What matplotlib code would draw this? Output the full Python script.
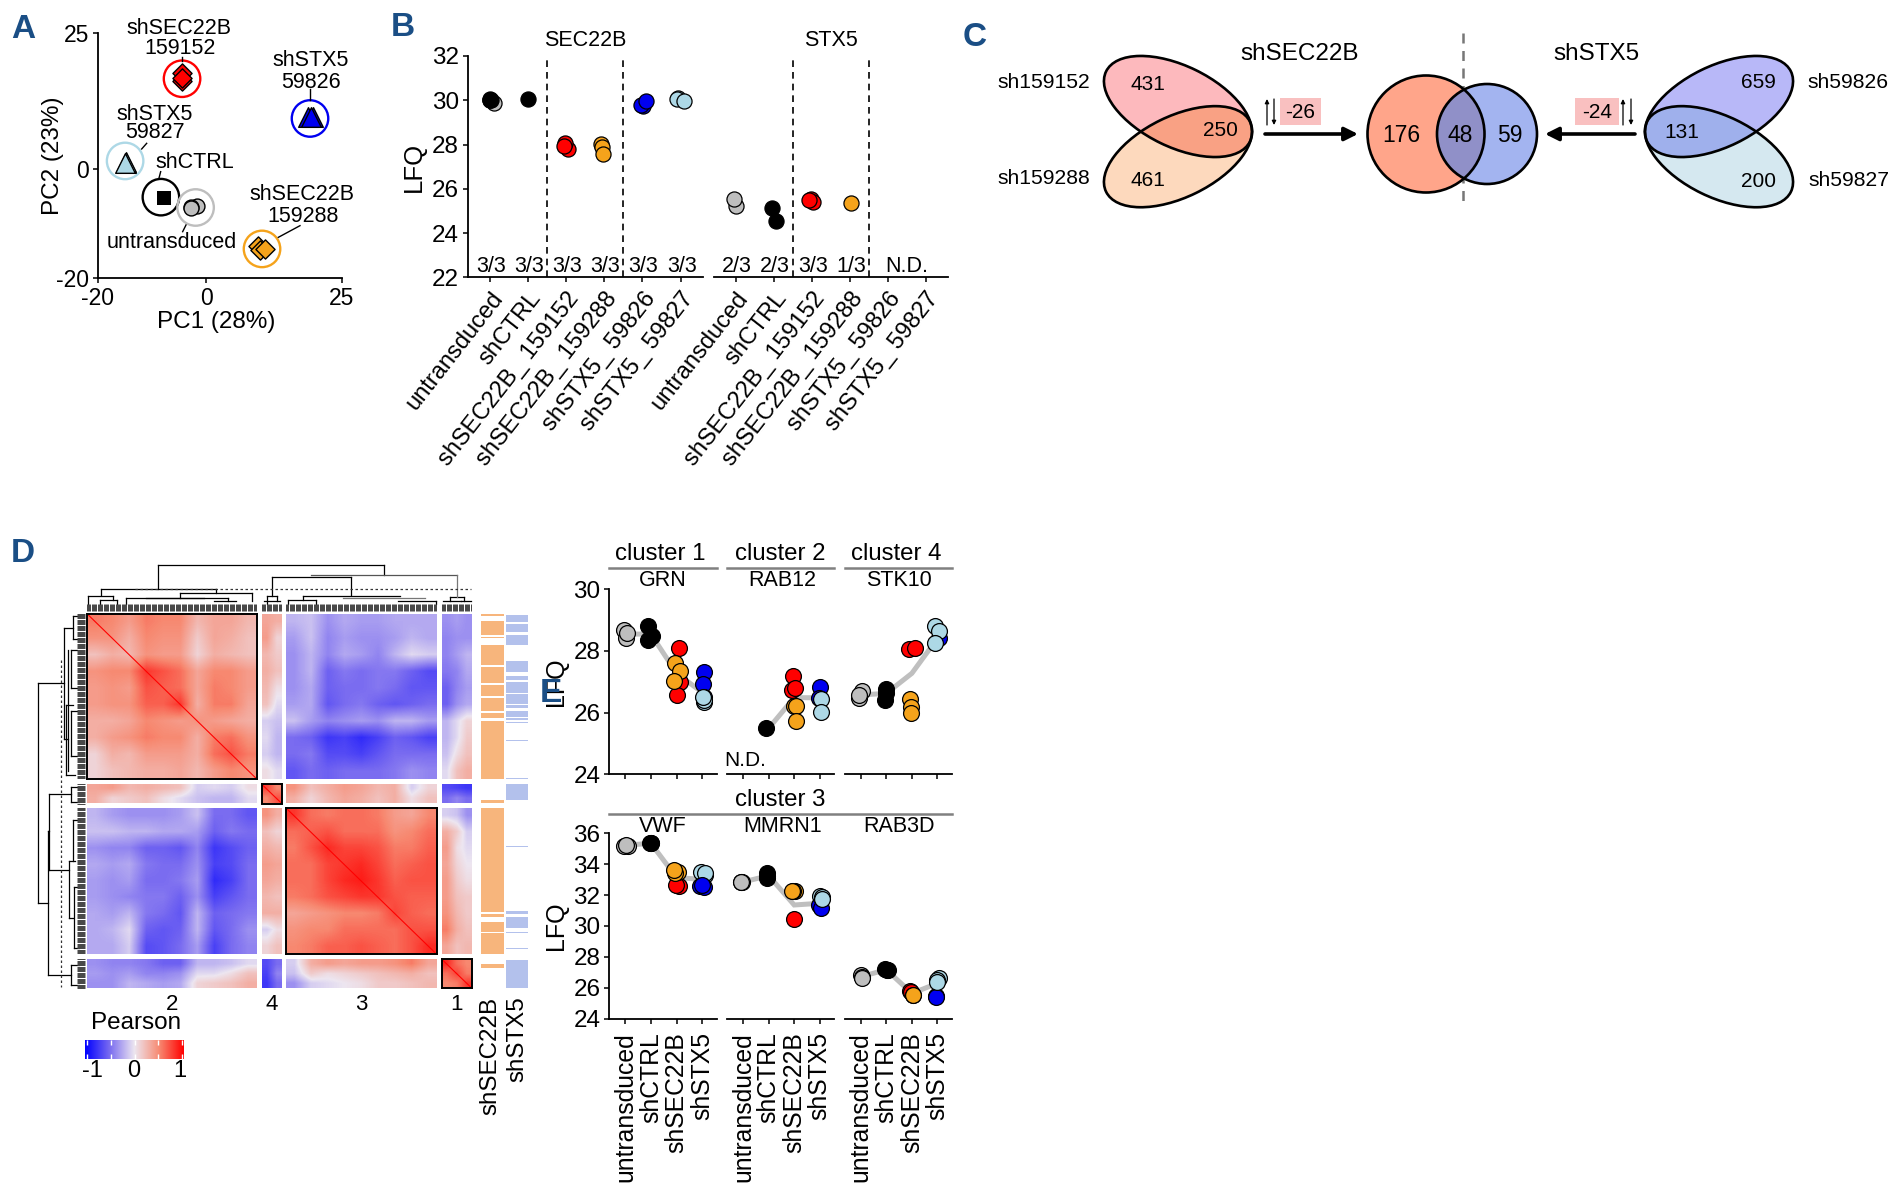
import numpy as np
import matplotlib
matplotlib.use("Agg")
import matplotlib.pyplot as plt
from matplotlib.colors import LinearSegmentedColormap
from matplotlib.patches import Ellipse, Rectangle, Circle

plt.rcParams["font.family"] = ["Liberation Sans", "DejaVu Sans"]
plt.rcParams["axes.unicode_minus"] = False

W, H = 1897, 1196
COL = {"g": "#BEBEBE", "k": "#000000", "r": "#FF0000", "o": "#F5A31B",
       "b": "#0000F0", "l": "#ADD8E6"}
NAVY = "#1A4E85"

# ---- panel A
pca_x = [-4.5, -4.5, -4.5, 18.8, 19.7, 19.2, -14.8, -14.8, -15.0, -7.85, -7.9, -7.8,
         -1.8, -2.9, -2.8, 9.6, 9.9, 10.8]
pca_y = [17.6, 16.1, 16.8, 9.6, 9.6, 9.6, 1.15, 1.3, 1.15, -5.3, -5.3, -5.3,
         -6.8, -6.9, -7.1, -14.2, -14.9, -14.7]
pca_c = "rrrbbblllkkkgggooo"
pca_m = "DDD^^^^^^sssoooDDD"
ring_x = [-4.5, 19.1, -15.0, -8.4, -2.0, 10.25]
ring_y = [16.6, 9.3, 1.5, -5.15, -7.05, -14.66]
ring_c = "rblkgo"

# ---- panel B
cond_b = ["untransduced", "shCTRL", "shSEC22B_ 159152", "shSEC22B_ 159288",
          "shSTX5_ 59826", "shSTX5_ 59827"]
sec22b_x = [0.1, 0.0, 0.0, 0.0, 0.02, 1.0, 2.04, 1.96, 1.93, 2.9, 2.93, 2.97,
            4.02, 3.95, 4.1, 4.92, 4.9, 5.08]
sec22b_y = [29.86, 30.01, 30.06, 30.0, 30.03, 30.06, 27.8, 28.08, 27.95, 28.02, 27.87, 27.59,
            29.76, 29.8, 29.97, 30.12, 30.07, 29.95]
sec22b_c = "ggkkkkrrrooobbblll"
stx5_x = [0.0, -0.05, 1.07, 0.95, 1.98, 2.03, 1.92, 3.02]
stx5_y = [25.24, 25.54, 24.56, 25.12, 25.55, 25.4, 25.48, 25.37]
stx5_c = "ggkkrrro"
sec22b_n = ["3/3"] * 6
stx5_n = ["2/3", "2/3", "3/3", "1/3"]

# ---- panel C
venn_sec = [431, 250, 461]
venn_both = [176, 48, 59]
venn_stx = [659, 131, 200]

# ---- panel D, coarse correlation blocks
corr_22 = [[.55, .5, .4, .55, .5, .5, .25, .35, .35, .25],
           [.45, .45, .3, .5, .45, .45, .15, .35, .3, .2],
           [.2, .3, .25, .45, .4, .4, .1, .3, .25, .2],
           [.45, .5, .5, .8, .7, .6, .35, .5, .5, .4],
           [.4, .45, .4, .7, .65, .6, .35, .55, .5, .4],
           [.4, .45, .45, .65, .65, .8, .3, .55, .55, .35],
           [.3, .3, .35, .5, .45, .4, .45, .4, .35, .3],
           [.3, .4, .45, .55, .5, .5, .3, .55, .6, .45],
           [.1, .3, .25, .4, .4, .4, .3, .6, .7, .55],
           [.1, .2, .25, .3, .3, .35, .25, .4, .5, .45]]
corr_24 = [[.35, .3], [.4, .1], [.25, .15], [.3, .2], [.25, .05],
           [.2, -.05], [-.1, -.15], [-.05, -.2], [-.1, -.2], [.05, -.05]]
corr_23 = [[-.2, -.15, -.35, -.25, -.3, -.3, -.25, -.25, -.25],
           [-.3, -.15, -.4, -.3, -.35, -.35, -.3, -.2, -.25],
           [-.35, -.2, -.4, -.25, -.3, -.4, -.2, -.05, -.1],
           [-.35, -.2, -.55, -.45, -.5, -.45, -.45, -.55, -.65],
           [-.35, -.25, -.55, -.5, -.5, -.45, -.5, -.6, -.6],
           [-.3, -.25, -.6, -.5, -.45, -.55, -.6, -.55, -.5],
           [-.15, -.3, -.4, -.35, -.3, -.35, -.2, -.2, -.3],
           [-.5, -.55, -.75, -.7, -.8, -.7, -.55, -.6, -.7],
           [-.5, -.45, -.65, -.65, -.7, -.6, -.5, -.5, -.5],
           [-.6, -.5, -.55, -.5, -.5, -.5, -.45, -.35, -.4]]
corr_21 = [[-.35, -.3, -.35], [-.4, -.35, -.35], [-.4, -.3, -.2], [-.45, -.4, -.25],
           [-.55, -.4, -.3], [-.55, -.35, -.25], [-.2, -.05, .1], [-.2, -.05, .15],
           [-.15, .05, .2], [-.05, .2, .3]]
corr_44 = [[.75, .5], [.5, .7]]
corr_43 = [[.45, .2, .3, .4, .35, .25, .3, -.1, .1],
           [.3, .1, .25, .35, .3, .2, .3, .05, .2]]
corr_41 = [[-.65, -.7, -.75], [-.5, -.4, -.5]]
corr_33 = [[.8, .6, .55, .6, .6, .55, .4, .35, .5],
           [.6, .65, .7, .6, .6, .6, .45, .5, .6],
           [.55, .7, .85, .75, .75, .7, .55, .55, .65],
           [.6, .6, .75, .8, .85, .75, .6, .65, .7],
           [.6, .6, .75, .85, .9, .8, .65, .7, .7],
           [.55, .6, .7, .75, .8, .8, .7, .65, .65],
           [.35, .4, .45, .5, .5, .55, .75, .65, .6],
           [.45, .5, .5, .6, .6, .6, .6, .7, .7],
           [.5, .55, .65, .65, .7, .65, .6, .7, .85]]
corr_31 = [[-.1, -.15, -.35], [.3, .15, -.1], [.4, .05, -.05], [.35, .1, .0], [.4, .15, .05],
           [.4, .2, .15], [.45, .25, .15], [.55, .3, .2], [.35, .2, .25]]
corr_11 = [[.85, .6, .5], [.6, .75, .55], [.5, .55, .8]]
# protein rows flagged in the two side strips
hits_sec = [(222, 228), (241, 280), (284, 288), (307, 360), (364, 408), (412, 442), (446, 480),
            (486, 500), (508, 662), (717, 725), (739, 1016), (1020, 1028), (1042, 1068),
            (1072, 1128), (1155, 1165)]
hits_stx = [(226, 245), (250, 270), (280, 306), (347, 378), (388, 400), (405, 432), (436, 462),
            (466, 472), (480, 497), (500, 506), (510, 513), (558, 561), (658, 662), (676, 718),
            (840, 844), (1014, 1021), (1028, 1057), (1068, 1071), (1111, 1115), (1143, 1218)]

# ---- panel E
cond_e = ["untransduced", "shCTRL", "shSEC22B", "shSTX5"]
grn_x = [-.065, .04, .065, .9, .88, 1.05, 2.09, 2.12, 2.0, 1.92, 2.12, 1.91, 3.05, 3.01, 3.05, 3.08, 3.05, 3.03]
grn_y = [28.67, 28.4, 28.56, 28.8, 28.35, 28.48, 28.08, 27.0, 26.57, 27.6, 27.36, 27.02,
         27.32, 26.92, 26.5, 26.33, 26.4, 26.51]
grn_c = "gggkkkrrrooobbblll"
grn_line = [28.54, 28.54, 27.27, 26.65]
rab12_x = [.9, 1.97, 1.9, 2.05, 2.01, 2.08, 2.09, 3.03, 2.96, 3.05, 3.06]
rab12_y = [25.49, 27.19, 26.73, 26.81, 26.22, 26.2, 25.74, 26.84, 26.46, 26.44, 26.03]
rab12_c = "krrrooobbll"
rab12_line = [None, 25.49, 26.48, 26.48]
stk10_x = [.04, -.065, -.065, .97, .93, .97, 1.87, 2.12, 1.92, 1.96, 1.96, 3.05, 2.89, 3.05, 2.92]
stk10_y = [26.7, 26.46, 26.57, 26.75, 26.41, 26.62, 28.06, 28.1, 26.45, 26.19, 26.0, 28.4, 28.81, 28.65, 28.26]
stk10_c = "gggkkkrrooobl" + "ll"
stk10_line = [26.57, 26.62, 27.27, 28.4]
vwf_x = [.09, -.04, .03, 1.0, .98, 1.02, 2.09, 1.98, 2.05, 1.95, 1.9, 3.09, 2.96, 3.1, 2.91, 3.08, 3.0]
vwf_y = [35.2, 35.2, 35.23, 35.35, 35.35, 35.35, 32.59, 32.65, 33.52, 33.45, 33.63, 33.3, 33.52, 33.4, 32.59, 32.5, 32.65]
vwf_c = "gggkkkrrooolllbbb"
vwf_line = [35.23, 35.35, 33.13, 33.02]
mmrn1_x = [-.09, -.04, -.07, .95, .92, .95, 1.99, 2.03, 1.96, 1.93, 2.98, 3.07, 3.03, 3.08, 3.09]
mmrn1_y = [32.85, 32.85, 32.87, 33.45, 33.09, 33.25, 30.43, 32.24, 32.26, 32.26, 31.36, 31.14, 31.96, 31.85, 31.73]
mmrn1_c = "gggkkkrooobblll"
mmrn1_line = [32.85, 33.26, 31.36, 31.47]
rab3d_x = [.0, .03, .05, .95, 1.08, 1.01, 1.92, 1.95, 2.03, 2.03, 2.95, 2.95, 3.07, 2.97, 2.98]
rab3d_y = [26.83, 26.72, 26.63, 27.2, 27.15, 27.17, 25.81, 25.7, 25.55, 25.53, 25.49, 25.43, 26.61, 26.5, 26.35]
rab3d_c = "gggkkkrrrobblll"
rab3d_line = [26.72, 27.17, 25.64, 26.29]

fig = plt.figure(figsize=(W / 100, H / 100), dpi=100)


def pax(l, t, r, b, **kw):
    return fig.add_axes([l / W, 1 - b / H, (r - l) / W, (b - t) / H], **kw)


def clean(ax, left=True, fs=17.5):
    for s in ("top", "right"):
        ax.spines[s].set_visible(False)
    ax.spines["left"].set_visible(left)
    for s in ("left", "bottom"):
        ax.spines[s].set_linewidth(1.3)
    ax.tick_params(width=1.1, length=3.5, labelsize=fs, pad=3, left=left)
    ax.patch.set_alpha(0)


def dots(ax, xs, ys, cs, s=88):
    for x, y, c in zip(xs, ys, cs):
        ax.scatter(x, y, s=s, color=COL[c], edgecolor="k", linewidth=0.9, zorder=3, clip_on=False)


# ---- A
ax = pax(98, 33, 342, 278)
clean(ax, fs=16.5)
ax.set_xlim(-20, 25)
ax.set_ylim(-20, 25)
ax.set_xticks([-20, 0, 25])
ax.set_yticks([-20, 0, 25])
ax.set_xlabel("PC1 (28%)", fontsize=17.5)
ax.xaxis.set_label_coords(0.485, -0.135)
ax.set_ylabel("PC2 (23%)", fontsize=17.5, labelpad=-6)
for x, y, c in zip(ring_x, ring_y, ring_c):
    ax.scatter(x, y, s=690, facecolor="none", edgecolor=COL[c], linewidth=1.7, zorder=2)
for x, y, c, m in zip(pca_x, pca_y, pca_c, pca_m):
    sz = {"D": 95, "^": 200, "s": 100, "o": 115}[m]
    lw = 0 if c == "k" else 1.0
    ax.scatter(x, y, s=sz, marker=m, color=COL[c], edgecolor="k", linewidth=lw, zorder=3)

# ---- B
ax1 = pax(467.8, 56, 702.7, 277.3)
ax2 = pax(713.6, 56, 948, 277.3)
for a, xs, ys, cs, nn, ttl in ((ax1, sec22b_x, sec22b_y, sec22b_c, sec22b_n, "SEC22B"),
                               (ax2, stx5_x, stx5_y, stx5_c, stx5_n, "STX5")):
    clean(a, left=a is ax1)
    a.set_xlim(-0.58, 5.58)
    a.set_ylim(22, 32)
    a.set_yticks(range(22, 33, 2) if a is ax1 else [])
    a.set_xticks(range(6))
    a.set_xticklabels(cond_b, rotation=52, ha="right", va="top", rotation_mode="anchor", fontsize=17)
    a.tick_params(axis="x", pad=4)
    for v in (1.5, 3.5):
        a.axvline(v, color="k", lw=1.2, ls=(0, (4, 3)), zorder=1)
    dots(a, xs, ys, cs, s=118)
    for i, t in enumerate(nn):
        a.text(i + 0.03, 22.5, t, ha="center", va="center", fontsize=15.5)
    a.text(2.5, 32.69, ttl, ha="center", va="center", fontsize=15.5)
ax1.set_ylabel("LFQ", fontsize=18.5, labelpad=4)
ax2.text(4.5, 22.5, "N.D.", ha="center", va="center", fontsize=15.5)

# ---- D heat map
cmap = LinearSegmentedColormap.from_list(
    "pearson", ["#0000FF", "#7A6CF0", "#EDE6F0", "#F78A72", "#FF0000"])
col_px = [(86.8, 256.8), (261.8, 281.8), (286, 436.8), (441.8, 471.8)]
row_px = [(613.5, 779), (784.3, 803.5), (808, 954.4), (959.3, 988.2)]
blocks = [[corr_22, corr_24, corr_23, corr_21],
          [np.transpose(corr_24), corr_44, corr_43, corr_41],
          [np.transpose(corr_23), np.transpose(corr_43), corr_33, corr_31],
          [np.transpose(corr_21), np.transpose(corr_41), np.transpose(corr_31), corr_11]]
for i, (t, b) in enumerate(row_px):
    for j, (l, r) in enumerate(col_px):
        a = pax(l, t, r, b)
        a.imshow(blocks[i][j], cmap=cmap, vmin=-1, vmax=1, aspect="auto", interpolation="bilinear")
        a.set_xticks([])
        a.set_yticks([])
        for s in a.spines.values():
            s.set_visible(i == j)
            s.set_linewidth(1.4)
        if i == j:
            # self correlation along the diagonal
            n = len(blocks[i][j])
            a.plot([-0.5, n - 0.5], [-0.5, n - 0.5], color="#FF0000", lw=0.8)
            a.set_xlim(-0.5, n - 0.5)
            a.set_ylim(n - 0.5, -0.5)

a = pax(481, 613.5, 504, 988.2)
a.axis("off")
a.set_xlim(0, 1)
a.set_ylim(1218, 222)
for s, e in hits_sec:
    a.add_patch(Rectangle((0, s), 1, e - s, color="#F7B57C", lw=0))
a = pax(506, 613.5, 528, 988.2)
a.axis("off")
a.set_xlim(0, 1)
a.set_ylim(1218, 222)
for s, e in hits_stx:
    a.add_patch(Rectangle((0, s), 1, e - s, color="#B3C1EC", lw=0))

cb = pax(85, 1040, 184, 1058.6)
cb.imshow(np.linspace(-1, 1, 256)[None, :], cmap=cmap, vmin=-1, vmax=1, aspect="auto", extent=(-1.05, 1.05, 0, 1))
cb.axis("off")
cb.vlines([-1, -.5, 0, .5, 1], 0.75, 1, color="w", lw=1)
cb.vlines([-1, -.5, 0, .5, 1], 0, 0.25, color="w", lw=1)

# ---- E
ax_top = [pax(609.3, 589, 716.7, 774.3), pax(727.3, 589, 834, 774.3), pax(845, 589, 951.7, 774.3)]
ax_bot = [pax(609.3, 833.3, 716.7, 1018.7), pax(727.3, 833.3, 834, 1018.7), pax(845, 833.3, 951.7, 1018.7)]
top_data = [(grn_x, grn_y, grn_c, grn_line), (rab12_x, rab12_y, rab12_c, rab12_line),
            (stk10_x, stk10_y, stk10_c, stk10_line)]
bot_data = [(vwf_x, vwf_y, vwf_c, vwf_line), (mmrn1_x, mmrn1_y, mmrn1_c, mmrn1_line),
            (rab3d_x, rab3d_y, rab3d_c, rab3d_line)]
for row, data, ylim, ticks in ((ax_top, top_data, (24, 30), [24, 26, 28, 30]),
                               (ax_bot, bot_data, (24, 36), list(range(24, 37, 2)))):
    for k, (a, (xs, ys, cs, mean)) in enumerate(zip(row, data)):
        clean(a, left=k == 0)
        a.set_xlim(-0.62, 3.56)
        a.set_ylim(*ylim)
        a.set_yticks(ticks if k == 0 else [])
        a.set_xticks(range(4))
        if row is ax_bot:
            a.set_xticklabels(cond_e, rotation=90, fontsize=17.8)
            a.tick_params(axis="x", pad=6)
        else:
            a.set_xticklabels([])
        mx = [i for i, v in enumerate(mean) if v is not None]
        a.plot(mx, [mean[i] for i in mx], color="#BFBFBF", lw=3.6, zorder=2, solid_joinstyle="miter")
        dots(a, xs, ys, cs, s=130)
    row[0].set_ylabel("LFQ", fontsize=18, labelpad=4)

# ---- overlay in figure pixels
ov = fig.add_axes([0, 0, 1, 1], zorder=10)
ov.set_xlim(0, W)
ov.set_ylim(H, 0)
ov.axis("off")


def txt(x, y, s, fs=15.5, **kw):
    kw.setdefault("ha", "center")
    kw.setdefault("va", "center")
    ov.text(x, y, s, fontsize=fs, **kw)


for s, x, y in (("A", 23, 29), ("B", 403, 27), ("C", 975, 37), ("D", 23, 553), ("E", 551, 693)):
    txt(x, y, s, fs=24, color=NAVY, fontweight="bold")

# A labels
for x, y, s in ((179, 28, "shSEC22B"), (180, 49, "159152"), (311, 60, "shSTX5"), (311, 82, "59826"),
                (155, 115, "shSTX5"), (155, 133, "59827"), (195, 162, "shCTRL"),
                (302, 194, "shSEC22B"), (303, 216, "159288"), (172, 242, "untransduced")):
    txt(x, y, s)
for x0, y0, x1, y1 in ((545, 170, 545, 183), (930, 268, 930, 300), (425, 447, 440, 430),
                       (482, 515, 476, 538), (558, 675, 548, 695), (900, 677, 835, 712)):
    ov.plot([x0 / 3, x1 / 3], [y0 / 3, y1 / 3], color="k", lw=1)


# C venns
def venn(cx, cy, tilt, fill1, fill2, fill3):
    e1 = Ellipse((cx, cy), 160, 81, angle=tilt, fc=fill1, ec="none")
    e2 = Ellipse((cx, cy + 50.2), 160, 81, angle=-tilt, fc=fill2, ec="none")
    ov.add_patch(e1)
    ov.add_patch(e2)
    e3 = Ellipse((cx, cy), 160, 81, angle=tilt, fc=fill3, ec="none")
    ov.add_patch(e3)
    e3.set_clip_path(e2)
    for c, a in (((cx, cy), tilt), ((cx, cy + 50.2), -tilt)):
        ov.add_patch(Ellipse(c, 160, 81, angle=a, fc="none", ec="k", lw=1.9))


venn(1178, 106.5, 26, "#FDB9BD", "#FDD9BD", "#F9A184")
venn(1719, 106.5, -26, "#B8B8F8", "#D5E8F0", "#9FB0EC")
c1 = Circle((1426, 134), 58.5, fc="#FFA58A", ec="none")
c2 = Circle((1487, 134), 50, fc="#A3B4F0", ec="none")
ov.add_patch(c1)
ov.add_patch(c2)
c3 = Circle((1426, 134), 58.5, fc="#9090C8", ec="none")
ov.add_patch(c3)
c3.set_clip_path(c2)
ov.add_patch(Circle((1426, 134), 58.5, fc="none", ec="k", lw=1.9))
ov.add_patch(Circle((1487, 134), 50, fc="none", ec="k", lw=1.9))
ov.plot([1463, 1463], [33, 208], color="#777777", lw=1.8, ls=(0, (4, 3)), zorder=0)
for (x, y), v in zip(((1148, 85), (1220.5, 130), (1148, 180)), venn_sec):
    txt(x, y, str(v), fs=15)
for (x, y), v in zip(((1401.7, 135.7), (1460, 135.7), (1510, 135.7)), venn_both):
    txt(x, y, str(v), fs=16.5)
for (x, y), v in zip(((1758, 83), (1682, 132), (1758, 181.7)), venn_stx):
    txt(x, y, str(v), fs=15)
for x, y, s in ((1043.6, 83, "sh159152"), (1043.6, 179, "sh159288"), (1848, 83, "sh59826"),
                (1849, 181, "sh59827")):
    txt(x, y, s, fs=15.2)
txt(1300, 54, "shSEC22B", fs=17.5)
txt(1596, 54, "shSTX5", fs=17.5)
for xs, xe in ((1265, 1358), (1635, 1545)):
    ov.annotate("", xy=(xe, 134), xytext=(xs, 134),
                arrowprops=dict(arrowstyle="-|>", lw=2.6, color="k", mutation_scale=20, shrinkA=0, shrinkB=0))
for x, up in ((1267, True), (1274, False), (1623, True), (1631, False)):
    a0, a1 = (125, 99) if up else (99, 125)
    ov.annotate("", xy=(x, a1), xytext=(x, a0),
                arrowprops=dict(arrowstyle="-|>", lw=0.9, color="k", mutation_scale=6, shrinkA=0, shrinkB=0))
ov.add_patch(Rectangle((1280, 98), 41, 27, fc="#F9C0C0", ec="none"))
ov.add_patch(Rectangle((1575, 98), 44, 27, fc="#F9C0C0", ec="none"))
txt(1300.5, 112, "-26", fs=15)
txt(1597, 112, "-24", fs=15)

# D labels
for x, s in ((171.8, "2"), (271.4, "4"), (361, "3"), (456, "1")):
    txt(x, 1005, s, fs=16)
txt(490, 996.5, "shSEC22B", fs=17.4, rotation=90, va="top")
txt(517, 996.5, "shSTX5", fs=17.4, rotation=90, va="top")
txt(136, 1023, "Pearson", fs=17.5)
for x, s in ((92, "-1"), (133.5, "0"), (180, "1")):
    txt(x, 1070.6, s, fs=17)

# D dendrograms, zoomed coords of the crop
zx = lambda v: v / 2.8
zy = lambda v: 530 + v / 2.658
top_h = [(92, 443, 1076), (124, 762, 982), (157, 282, 605), (168, 505, 705), (175, 247, 315),
         (185, 280, 328), (182, 352, 637), (180, 410, 570), (190, 600, 660), (175, 748, 775),
         (190, 740, 785), (175, 848, 1120), (185, 805, 885), (190, 1115, 1220), (177, 1260, 1300),
         (190, 1240, 1290), (190, 1290, 1318)]
top_v = [(443, 92, 157), (1076, 92, 120), (762, 124, 175), (982, 124, 172), (282, 157, 172),
         (605, 157, 168), (505, 168, 180), (705, 168, 190), (247, 175, 198), (315, 175, 185),
         (328, 185, 198), (280, 185, 198), (352, 182, 198), (637, 182, 190), (748, 175, 197),
         (775, 175, 190), (848, 175, 185), (805, 185, 198), (885, 185, 198), (1220, 190, 198),
         (1260, 177, 190), (1300, 177, 190)]
for y, x0, x1 in top_h:
    ov.plot([zx(x0), zx(x1)], [zy(y), zy(y)], color="k", lw=0.9)
for x, y0, y1 in top_v:
    ov.plot([zx(x), zx(x)], [zy(y0), zy(y1)], color="k", lw=0.9)
ov.plot([zx(870), zx(1280)], [zy(120), zy(120)], color="#555555", lw=0.9)
ov.plot([zx(1280), zx(1280)], [zy(120), zy(177)], color="#777777", lw=0.9)
ov.plot([zx(960), zx(1190)], [zy(180), zy(180)], color="#777777", lw=0.9)
ov.plot([zx(378), zx(1320)], [zy(156), zy(156)], color="#333333", lw=0.9, ls=(0, (2, 2)))
left_v = [(105, 408, 992), (133, 800, 1182), (137, 702, 905), (178, 260, 555), (190, 320, 640),
          (186, 465, 650), (205, 228, 290), (200, 320, 420), (200, 480, 600), (192, 880, 1030),
          (205, 770, 880), (208, 950, 1110), (200, 682, 722), (200, 1155, 1210)]
left_h = [(408, 105, 178), (992, 105, 133), (1182, 133, 200), (702, 137, 200), (905, 137, 192),
          (800, 133, 137), (260, 178, 205), (555, 178, 190), (465, 186, 205), (650, 186, 210),
          (228, 205, 225), (290, 205, 220), (320, 200, 215), (420, 200, 215), (480, 200, 215),
          (600, 200, 215), (1030, 192, 205), (770, 205, 225), (880, 192, 210), (950, 208, 220),
          (1110, 208, 220), (682, 200, 220), (722, 200, 220), (1155, 200, 220), (1210, 200, 220)]
for x, y0, y1 in left_v:
    ov.plot([zx(x), zx(x)], [zy(y0), zy(y1)], color="k", lw=0.9)
for y, x0, x1 in left_h:
    ov.plot([zx(x0), zx(x1)], [zy(y), zy(y)], color="k", lw=0.9)
ov.plot([zx(172), zx(172)], [zy(345), zy(1215)], color="#333333", lw=0.9, ls=(0, (2, 2)))
# leaf bands
for l, r in col_px:
    ov.vlines(np.arange(l, r, 1.2), zy(198), zy(215), color="#444444", lw=0.7)
for t, b in row_px:
    ov.hlines(np.arange(t, b, 1.2), zx(215), zx(237), color="#444444", lw=0.7)

# E headers
for l, r, s, x in ((609.3, 716.7, "cluster 1", 660.7), (727.3, 834, "cluster 2", 780), (845, 951.7, "cluster 4", 896.7)):
    ov.plot([l, r], [567.7, 567.7], color="#808080", lw=1.8)
    txt(x, 554, s, fs=17.3)
for x, s in ((662.7, "GRN"), (782.3, "RAB12"), (898.7, "STK10")):
    txt(x, 581, s, fs=15.5)
ov.plot([609.3, 951.7], [814.3, 814.3], color="#808080", lw=1.8)
txt(780, 800, "cluster 3", fs=17.3)
for x, s in ((663, "VWF"), (783, "MMRN1"), (898.7, "RAB3D")):
    txt(x, 826.7, s, fs=15.5)
txt(745, 760, "N.D.", fs=15)

fig.savefig("out.png", dpi=100)
